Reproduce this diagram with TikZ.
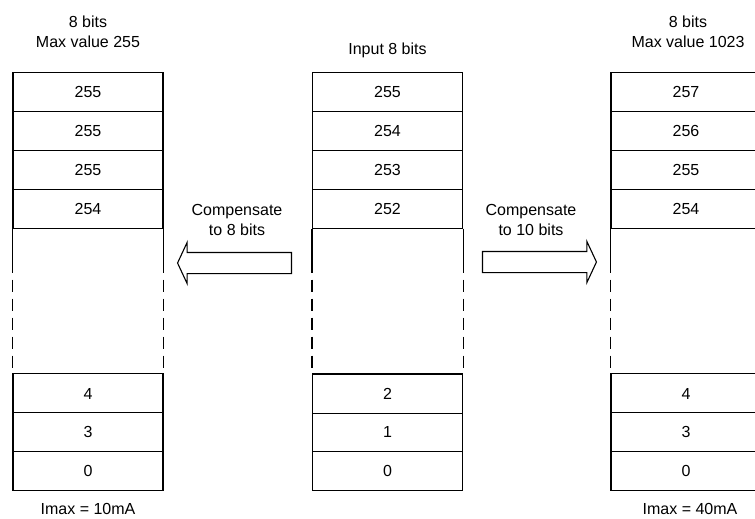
\documentclass[tikz,border=0pt]{standalone}
\usepackage{fontspec}
\setmainfont{Liberation Sans}
\usetikzlibrary{
    shapes,
    shapes.multipart,
    shapes.arrows,
    positioning
}

\begin{document}
\begin{tikzpicture}[x=1pt, y=-1pt, line width=1.1pt, font=\fontsize{16}{20}\selectfont,
                cell-stack/.style={
                rectangle split, rectangle split parts=#1, draw=black, minimum width=150pt,
                inner xsep=0pt, inner ysep=13.2pt, text height=11.6pt, text depth=0pt},
                side-dash/.style={dash pattern=on 12pt off 7pt, dash phase=12pt},
                fat-arrow/.style={
                single arrow, draw=black, inner xsep=0pt, inner ysep=10pt, minimum height=114pt,
                single arrow head extend=10pt, single arrow tip angle=130}]
                \useasboundingbox (0,0) rectangle (755,519);
                % three register columns
                \node[cell-stack=4, anchor=north] (ltop) at (88,72) {255 \nodepart{two} 255 \nodepart{three} 255 \nodepart{four} 254};
                \node[cell-stack=3, anchor=south] (lbot) at (88,491) {4 \nodepart{two} 3 \nodepart{three} 0};
                \node[cell-stack=4, anchor=north] (mtop) at (387.5,72) {255 \nodepart{two} 254 \nodepart{three} 253 \nodepart{four} 252};
                \node[cell-stack=3, anchor=south] (mbot) at (387.5,491) {2 \nodepart{two} 1 \nodepart{three} 0};
                \node[cell-stack=4, anchor=north] (rtop) at (686,72) {257 \nodepart{two} 256 \nodepart{three} 255 \nodepart{four} 254};
                \node[cell-stack=3, anchor=south] (rbot) at (686,491) {4 \nodepart{two} 3 \nodepart{three} 0};
                \node[align=center] (ltitle) at (88,32) {8 bits\\Max value 255};
                \node (mtitle) at (387.5,50) {Input 8 bits};
                \node[align=center] (rtitle) at (688,32) {8 bits\\Max value 1023};
                \node[inner sep=1pt] (limax) at (88,509) {Imax = 10mA};
                \node[inner sep=1pt] (rimax) at (690,509) {Imax = 40mA};
                % open sides between the stacks
                \foreach \c in {l,m,r} {
                    \draw (\c top.south west) -- ++(0,44) coordinate (\c sw);
                    \draw[side-dash] (\c sw) -- (\c bot.north west);
                    \draw (\c top.south east) -- ++(0,44) coordinate (\c se);
                    \draw[side-dash] (\c se) -- (\c bot.north east);
                }
                % compensation arrows
                \node[fat-arrow, shape border rotate=180] (toeight) at (237,263) {};
                \node[fat-arrow] (toten) at (537,262) {};
                \node[align=center] (eightlabel) at (237,220) {Compensate\\to 8 bits};
                \node[align=center] (tenlabel) at (531,220) {Compensate\\to 10 bits};
            \end{tikzpicture}
\end{document}
